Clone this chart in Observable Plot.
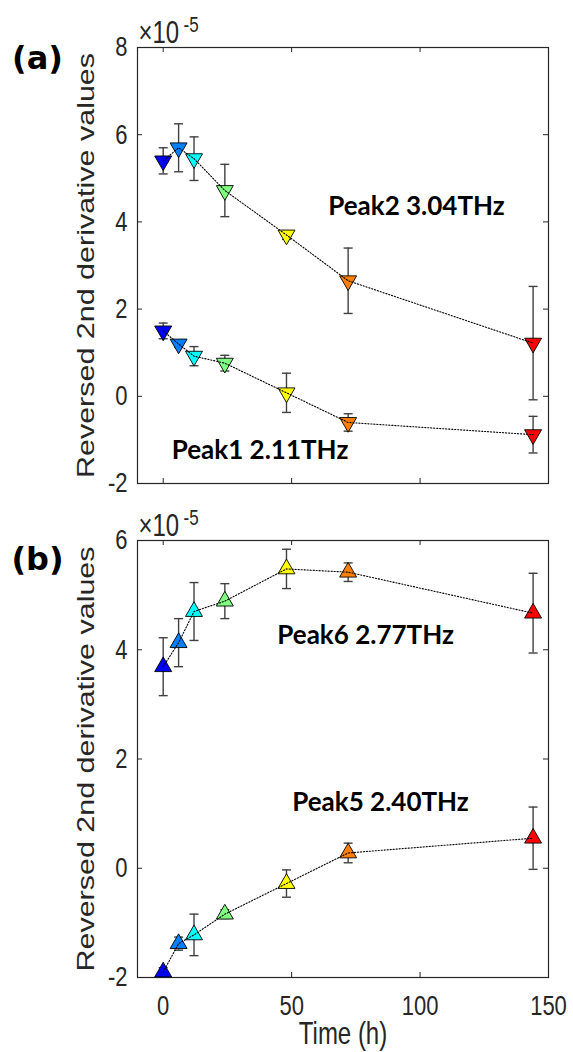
<!DOCTYPE html>
<html>
<head>
<meta charset="utf-8">
<script src="https://cdn.jsdelivr.net/npm/d3@7"></script>
<script src="https://cdn.jsdelivr.net/npm/@observablehq/plot@0.6"></script>
<style>
  html, body { margin: 0; padding: 0; background: #fff; }
  #chart svg { display: block; }
</style>
</head>
<body>
<div id="chart"></div>
<script>
// ---- data (values in units of 1e-5) ----
const times = [0, 6, 12, 24, 48, 72, 144];
const pointColors = ["#0000ff", "#0080ff", "#00ffff", "#80ff80", "#ffff00", "#ff8000", "#ff0000"];
const xTicks = [0, 50, 100, 150];
const yTicksA = [-2, 0, 2, 4, 6, 8];
const yTicksB = [-2, 0, 2, 4, 6];

const peak2 = [5.40, 5.70, 5.45, 4.72, 3.70, 2.65, 1.22];
const peak2Err = [0.30, 0.55, 0.50, 0.60, 0.10, 0.75, 1.30];
const peak1 = [1.50, 1.20, 0.92, 0.76, 0.08, -0.60, -0.88];
const peak1Err = [0.18, 0.08, 0.22, 0.18, 0.45, 0.20, 0.42];

const peak6 = [3.69, 4.13, 4.70, 4.89, 5.48, 5.42, 4.67];
const peak6Err = [0.53, 0.44, 0.53, 0.32, 0.36, 0.17, 0.73];
const peak5 = [-1.90, -1.38, -1.22, -0.84, -0.28, 0.28, 0.55];
const peak5Err = [0.08, 0.12, 0.38, 0.08, 0.25, 0.18, 0.57];

// annotation anchors (data units)
const labelsA = [
  {text: "Peak2 3.04THz", t: 98.6, v: 4.34},
  {text: "Peak1 2.11THz", t: 37.7, v: -1.24}
];
const labelsB = [
  {text: "Peak6 2.77THz", t: 78.8, v: 4.25},
  {text: "Peak5 2.40THz", t: 84.6, v: 1.20}
];

const yLabel = "Reversed 2nd derivative values";
const xLabel = "Time (h)";
const expBase = "×10";
const expPow = "-5";

// ---- layout ----
const W = 573, ML = 137, MR = 25;
const AXIS = "#262626";
const STRETCH = 1.27;

const capSymbol = {
  draw(ctx, size) {
    const hw = Math.sqrt(size / Math.PI);
    ctx.moveTo(-hw, 0);
    ctx.lineTo(hw, 0);
  }
};

function panel(cfg) {
  const fw = W - ML - MR;
  const fh = cfg.height - cfg.mt - cfg.mb;
  const rows = cfg.series.flatMap(s => times.map((t, i) => ({
    series: s.name, t, v: s.values[i], e: s.errs[i], c: pointColors[i]
  })));
  const marks = [
    Plot.frame({stroke: AXIS, strokeWidth: 1.2}),
    Plot.tickY(cfg.yTicks, {y: d => d, insetRight: fw - 5, stroke: AXIS}),
    Plot.tickY(cfg.yTicks, {y: d => d, insetLeft: fw - 5, stroke: AXIS}),
    Plot.tickX(xTicks, {x: d => d, insetTop: fh - 5, stroke: AXIS}),
    Plot.tickX(xTicks, {x: d => d, insetBottom: fh - 5, stroke: AXIS}),
    Plot.axisY({ticks: cfg.yTicks, tickSize: 0, tickPadding: 10, label: null, fontSize: 22, tickFormat: d => String(d)}),
    cfg.xLabels ? Plot.axisX({ticks: xTicks, tickSize: 0, tickPadding: 18, label: null, fontSize: 22, tickFormat: d => String(d)}) : null,
    // error bars
    Plot.ruleX(rows, {x: "t", y1: d => d.v - d.e, y2: d => d.v + d.e, stroke: "#404040", strokeWidth: 1.4}),
    Plot.dot(rows, {x: "t", y: d => d.v + d.e, symbol: capSymbol, r: 4.5, fill: "none", stroke: "#404040", strokeWidth: 1.4}),
    Plot.dot(rows, {x: "t", y: d => d.v - d.e, symbol: capSymbol, r: 4.5, fill: "none", stroke: "#404040", strokeWidth: 1.4}),
    // markers
    Plot.dot(rows, {x: "t", y: "v", symbol: "triangle", r: 6.3, fill: "c", stroke: "#000", strokeWidth: 0.9, rotate: cfg.rotate}),
    // dotted connecting lines
    Plot.line(rows, {x: "t", y: "v", z: "series", stroke: "#000", strokeWidth: 1.1, strokeDasharray: "1.2,1.8"}),
    // peak labels
    Plot.text(cfg.labels, {x: "t", y: "v", text: "text", fontFamily: "Lato", fontWeight: "bold", fontSize: 26, fill: "#000", textAnchor: "middle", lineAnchor: "middle"}),
    // exponent
    Plot.text([expBase], {text: d => d, frameAnchor: "top-left", dx: 1, dy: -5, textAnchor: "start", lineAnchor: "bottom", fontSize: 24, fill: AXIS}),
    Plot.text([expPow], {text: d => d, frameAnchor: "top-left", dx: 46, dy: -16, textAnchor: "start", lineAnchor: "bottom", fontSize: 17, fill: AXIS}),
    // y label
    Plot.text([yLabel], {text: d => d, frameAnchor: "left", dx: -51, rotate: -90, textAnchor: "middle", lineAnchor: "middle", fontSize: 24, fill: AXIS}),
    // panel letter
    Plot.text([cfg.letter], {text: d => d, frameAnchor: "top-left", dx: -100, dy: cfg.letterDy, textAnchor: "middle", lineAnchor: "middle", fontFamily: "DejaVu Sans", fontWeight: "bold", fontSize: 32, fill: "#000"}),
    cfg.xLabels ? Plot.text([xLabel], {text: d => d, frameAnchor: "bottom", dy: 66, textAnchor: "middle", lineAnchor: "bottom", fontSize: 24, fill: AXIS}) : null
  ];
  const svg = Plot.plot({
    width: W,
    height: cfg.height,
    marginLeft: ML,
    marginRight: MR,
    marginTop: cfg.mt,
    marginBottom: cfg.mb,
    style: {fontFamily: "Liberation Sans, Arial, sans-serif", fontSize: "22px", color: AXIS, background: "#fff", overflow: "visible"},
    x: {domain: [-10, 150], axis: null},
    y: {domain: cfg.yDomain, axis: null},
    marks
  });
  const tickStrings = new Set([...cfg.yTicks, ...xTicks].map(String));
  const stretchY = new Set([...tickStrings, xLabel, expBase, expPow]);
  svg.querySelectorAll("text").forEach(t => {
    const s = t.textContent;
    const tr = t.getAttribute("transform") || "";
    if (s === yLabel) t.setAttribute("transform", tr + ` scale(${STRETCH},1)`);
    else if (stretchY.has(s)) t.setAttribute("transform", tr + ` scale(1,${STRETCH})`);
  });
  return svg;
}

const chart = document.getElementById("chart");
chart.appendChild(panel({
  height: 500, mt: 47, mb: 17, yDomain: [-2, 8], yTicks: yTicksA, xLabels: false, rotate: 180,
  letter: "(a)", letterDy: 11, labels: labelsA,
  series: [
    {name: "Peak2", values: peak2, errs: peak2Err},
    {name: "Peak1", values: peak1, errs: peak1Err}
  ]
}));
chart.appendChild(panel({
  height: 552, mt: 40, mb: 75, yDomain: [-2, 6], yTicks: yTicksB, xLabels: true, rotate: 0,
  letter: "(b)", letterDy: 19, labels: labelsB,
  series: [
    {name: "Peak6", values: peak6, errs: peak6Err},
    {name: "Peak5", values: peak5, errs: peak5Err}
  ]
}));
</script>
</body>
</html>
